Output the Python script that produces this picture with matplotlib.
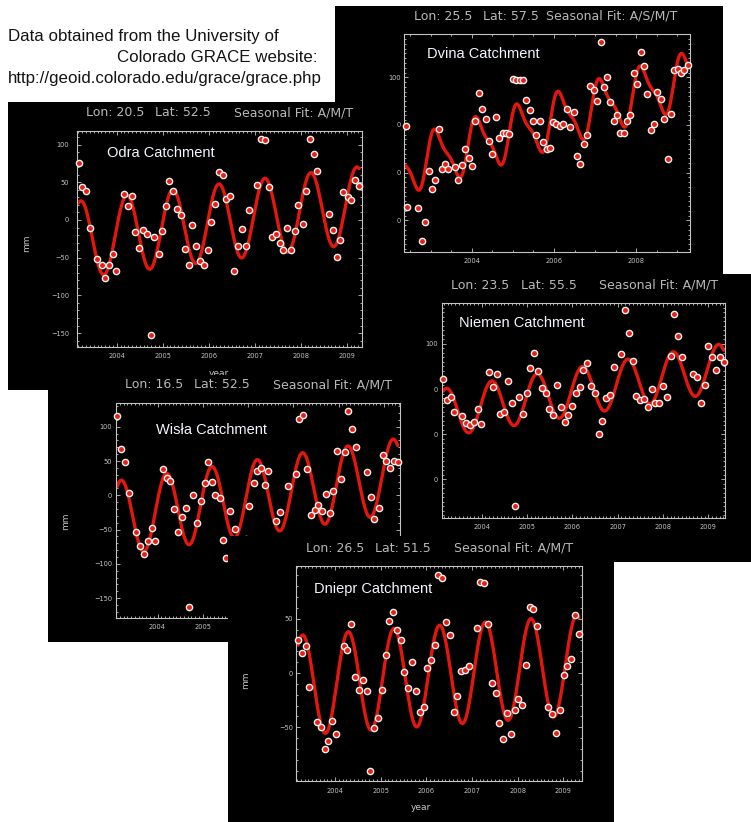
import numpy as np
import matplotlib
matplotlib.use("Agg")
import matplotlib.pyplot as plt
from matplotlib.ticker import MultipleLocator

W, H = 751, 822

# GRACE water storage anomalies (mm)
ODRA_YEAR = [2003.17, 2003.25, 2003.34, 2003.41, 2003.57, 2003.67, 2003.75, 2003.83, 2003.92, 2003.99,
             2004.16, 2004.24, 2004.33, 2004.40, 2004.49, 2004.57, 2004.65, 2004.74, 2004.82, 2004.91, 2004.99,
             2005.07, 2005.14, 2005.23, 2005.31, 2005.40, 2005.48, 2005.57, 2005.64, 2005.73, 2005.80, 2005.89, 2005.98,
             2006.06, 2006.14, 2006.22, 2006.30, 2006.38, 2006.47, 2006.55, 2006.63, 2006.72, 2006.80, 2006.88,
             2007.05, 2007.13, 2007.22, 2007.30, 2007.37, 2007.46, 2007.54, 2007.62, 2007.70, 2007.78, 2007.87, 2007.95,
             2008.04, 2008.12, 2008.20, 2008.28, 2008.36, 2008.61, 2008.70, 2008.78, 2008.86, 2008.93,
             2009.02, 2009.10, 2009.19, 2009.27]
ODRA_MM = [76, 44, 38, -10, -52, -60, -77, -60, -45, -68,
           34, 18, 32, -16, -37, -13, -18, -153, -22, -45, -15,
           19, 52, 38, 15, 6, -39, -60, -6, -35, -54, -60, -40,
           -3, 21, 64, 59, 28, 32, -67, -35, -12, -35, 13,
           46, 107, 106, 44, -22, -19, -30, -40, -11, -40, -14, 20,
           -5, 39, 107, 88, 65, 8, -13, -49, -27, 37,
           31, 27, 53, 45]

DVINA_YEAR = [2002.40, 2002.44, 2002.70, 2002.79, 2002.87, 2002.96,
              2003.04, 2003.12, 2003.20, 2003.27, 2003.36, 2003.43, 2003.60, 2003.68, 2003.77, 2003.85, 2003.94,
              2004.02, 2004.09, 2004.18, 2004.26, 2004.34, 2004.42, 2004.50, 2004.59, 2004.67, 2004.75, 2004.83, 2004.91,
              2005.00, 2005.08, 2005.17, 2005.25, 2005.33, 2005.41, 2005.49, 2005.57, 2005.66, 2005.74, 2005.82, 2005.90, 2005.98,
              2006.06, 2006.15, 2006.23, 2006.31, 2006.40, 2006.48, 2006.56, 2006.64, 2006.72, 2006.80, 2006.88, 2006.96,
              2007.04, 2007.13, 2007.21, 2007.29, 2007.37, 2007.45, 2007.53, 2007.61, 2007.69, 2007.77, 2007.85, 2007.94,
              2008.02, 2008.11, 2008.19, 2008.27, 2008.35, 2008.43, 2008.51, 2008.60, 2008.68, 2008.76, 2008.84, 2008.92,
              2009.01, 2009.09, 2009.17, 2009.25]
DVINA_MM = [-3, -172, -175, -243, -204, -96,
            -135, -115, -8, -92, -82, -92, -88, -115, -85, -51, -70,
            -87, 8, 68, 34, 13, -34, -60, 17, -28, -17, -17, -19,
            96, 94, 94, 95, 53, 31, 9, -22, 9, -35, -51, -48, 6,
            3, -3, 1, 34, -5, 27, -65, -82, -39, -22, 81, 73,
            51, 173, 80, 100, 49, 8, 20, -17, -17, 8, 20, 110,
            85, 154, 124, 64, -11, 1, 69, 54, 13, -71, 22, 115,
            117, 110, 115, 126]

NIEMEN_YEAR = [2003.15, 2003.24, 2003.32, 2003.39, 2003.57, 2003.66, 2003.74, 2003.82, 2003.91, 2003.99,
               2004.16, 2004.24, 2004.33, 2004.40, 2004.50, 2004.57, 2004.66, 2004.74, 2004.82, 2004.91, 2004.99,
               2005.07, 2005.16, 2005.24, 2005.32, 2005.41, 2005.49, 2005.58, 2005.66, 2005.74, 2005.83, 2005.91,
               2006.00, 2006.08, 2006.16, 2006.24, 2006.33, 2006.41, 2006.50, 2006.58, 2006.66, 2006.74, 2006.83, 2006.91,
               2007.08, 2007.17, 2007.25, 2007.33, 2007.41, 2007.50, 2007.58, 2007.66, 2007.75, 2007.83, 2007.92,
               2008.00, 2008.08, 2008.17, 2008.25, 2008.33, 2008.42, 2008.67, 2008.75, 2008.84, 2008.92,
               2009.00, 2009.09, 2009.17, 2009.25, 2009.34]
NIEMEN_MM = [22, -24, -17, -52, -59, -76, -81, -73, -45, -78,
             37, 4, 33, -55, -50, 17, -30, -261, -17, -56, -8,
             46, 81, 39, 2, -9, -45, -57, 9, -39, -73, -57,
             -37, -8, 4, 42, 57, 7, -9, -99, -70, -21, -13, 49,
             78, 176, 124, 62, -15, -24, -23, -39, -1, -30, -30,
             7, -17, 73, 167, 118, 70, 33, 27, -30, 9,
             96, 70, 42, 70, 60]

WISLA_YEAR = [2003.11, 2003.20, 2003.28, 2003.36, 2003.53, 2003.62, 2003.70, 2003.78, 2003.87, 2003.95,
              2004.12, 2004.20, 2004.28, 2004.36, 2004.45, 2004.53, 2004.62, 2004.70, 2004.78, 2004.87, 2004.95,
              2005.04, 2005.12, 2005.20, 2005.28, 2005.37, 2005.45, 2005.52, 2005.61, 2005.70, 2005.96,
              2006.03, 2006.12, 2006.20, 2006.29, 2006.37, 2006.45, 2006.62, 2006.71, 2006.87,
              2007.05, 2007.13, 2007.21, 2007.30, 2007.38, 2007.47, 2007.55, 2007.63, 2007.72, 2007.80, 2007.88, 2007.96,
              2008.05, 2008.13, 2008.21, 2008.30, 2008.38, 2008.63, 2008.71, 2008.79, 2008.88, 2008.97,
              2009.05, 2009.13, 2009.21, 2009.30]
WISLA_MM = [116, 67, 48, 3, -54, -74, -86, -66, -47, -66,
            38, 25, 21, -20, -54, -32, -18, -163, 0, -41, -8,
            18, 49, 20, 1, -4, -65, -92, -23, -49, -64,
            -15, 18, 36, 40, 15, 35, -38, -25, 13,
            31, 112, 117, 39, -28, -21, -14, -23, 2, -26, 7, 64,
            24, 63, 123, 96, 71, 34, -3, -34, -18, 59,
            50, 40, 50, 48]

DNIEPR_YEAR = [2003.19, 2003.28, 2003.36, 2003.44, 2003.61, 2003.69, 2003.77, 2003.85, 2003.94, 2004.02,
               2004.19, 2004.27, 2004.35, 2004.44, 2004.53, 2004.61, 2004.69, 2004.77, 2004.85, 2004.94,
               2005.02, 2005.11, 2005.19, 2005.26, 2005.35, 2005.44, 2005.52, 2005.60, 2005.69, 2005.77, 2005.85, 2005.94,
               2006.02, 2006.10, 2006.18, 2006.26, 2006.35, 2006.43, 2006.51, 2006.60, 2006.68, 2006.76, 2006.85, 2006.93,
               2007.10, 2007.18, 2007.27, 2007.35, 2007.43, 2007.52, 2007.60, 2007.68, 2007.77, 2007.85, 2007.93,
               2008.01, 2008.09, 2008.18, 2008.26, 2008.34, 2008.42, 2008.67, 2008.76, 2008.84, 2008.92,
               2009.01, 2009.09, 2009.17, 2009.26, 2009.34]
DNIEPR_MM = [30, 18, 25, -13, -45, -50, -70, -63, -44, -56,
             25, 21, 45, -4, -16, -6, -17, -90, -51, -41,
             -16, 17, 48, 56, 40, 30, 1, -14, 10, -17, -36, -31,
             5, 12, 26, 90, 87, 47, 35, -36, -21, 2, 3, 6,
             41, 84, 83, 45, -9, -18, -46, -61, -37, -56, -34,
             -24, -29, 7, 61, 59, 43, -31, -38, -55, -34,
             -2, 6, 13, 53, 36]

# seasonal fit:
# mean at 2006.0, trend (mm/yr), annual amp, annual peak phase, semiannual amp, semiannual phase
ODRA_FIT = [-4.75, 7.5, 50.9, 0.22, 0.0, 0.0]
DVINA_FIT = [9.1, 26.5, 52.0, 0.156, 15.6, 0.031]
NIEMEN_FIT = [-6.9, 16.2, 53.5, 0.22, 0.0, 0.0]
WISLA_FIT = [-4.5, 10.0, 54.5, 0.20, 0.0, 0.0]
DNIEPR_FIT = [-2.9, 3.0, 46.0, 0.29, 0.0, 0.0]

NAMES = ["Dvina Catchment", "Odra Catchment", "Niemen Catchment", "Wisła Catchment", "Dniepr Catchment"]
LONS = ["Lon: 25.5", "Lon: 20.5", "Lon: 23.5", "Lon: 16.5", "Lon: 26.5"]
LATS = ["Lat: 57.5", "Lat: 52.5", "Lat: 55.5", "Lat: 52.5", "Lat: 51.5"]
FITS = ["Seasonal Fit: A/S/M/T", "Seasonal Fit: A/M/T", "Seasonal Fit: A/M/T",
        "Seasonal Fit: A/M/T", "Seasonal Fit: A/M/T"]

YEAR_TICKS = [2004, 2005, 2006, 2007, 2008, 2009]
DVINA_YEAR_TICKS = [2004, 2006, 2008]
MM_TICKS_50 = [-150, -100, -50, 0, 50, 100]
MM_TICKS_DNIEPR = [-50, 0, 50]
MM_TICKS_100 = [-200, -100, 0, 100]
MM_LABELS_100 = ["0", "0", "0", "100"]  # left digits are cropped away in the screenshot

NOTE = ["Data obtained from the University of",
        "Colorado GRACE website:",
        "http://geoid.colorado.edu/grace/grace.php"]

GRAY = "#c4c4c4"
RED_LINE = "#e3170d"
RED_DOT = "#ee1c10"


def seasonal_fit(t, c):
    m, tr, a1, p1, a2, p2 = c
    return (m + tr * (t - 2006.0) + a1 * np.cos(2 * np.pi * (t - p1))
            + a2 * np.cos(4 * np.pi * (t - p2)))


def px_rect(l, t, r, b):
    return [l / W, 1 - b / H, (r - l) / W, (b - t) / H]


def fx(x):
    return x / W


def fy(y):
    return 1 - y / H


def mm_labels(ticks):
    return [str(v).replace("-", "\u2212") for v in ticks]


# layout of each screenshot in pixels (drawn back to front)
PANELS = [
    dict(name=0, year=DVINA_YEAR, vals=DVINA_MM, fit=DVINA_FIT,
         panel=(335, 5.7, 723.3, 280), plot=(404, 34.3, 690, 252.3),
         xlim=(2002.356, 2009.304), ylim=(-267.1, 190.2),
         xticks=DVINA_YEAR_TICKS, xminor=0.5, yticks=MM_TICKS_100, ylabels=MM_LABELS_100,
         head=(414, 483.3, 546, 16), title=(427, 54), ypad=2.5, xpad=4.2,
         mmlab=None, yearlab=None),
    dict(name=1, year=ODRA_YEAR, vals=ODRA_MM, fit=ODRA_FIT,
         panel=(8.3, 102.3, 372, 390), plot=(76.7, 131, 361.7, 346.7),
         xlim=(2003.13, 2009.326), ylim=(-168.0, 118.0),
         xticks=YEAR_TICKS, xminor=1 / 12, yticks=MM_TICKS_50, ylabels=mm_labels(MM_TICKS_50),
         head=(86, 155.3, 234.3, 112.7), title=(107, 153), ypad=5.5, xpad=4.7,
         mmlab=(26.7, 243), yearlab=(219, 373.4)),
    dict(name=2, year=NIEMEN_YEAR, vals=NIEMEN_MM, fit=NIEMEN_FIT,
         panel=(366, 274, 751, 562), plot=(441.7, 303.3, 725, 517.7),
         xlim=(2003.118, 2009.368), ylim=(-285.9, 190.4),
         xticks=YEAR_TICKS, xminor=1 / 12, yticks=MM_TICKS_100, ylabels=MM_LABELS_100,
         head=(451, 520.7, 599, 285), title=(459, 323), ypad=2.5, xpad=4.7,
         mmlab=None, yearlab=None),
    dict(name=3, year=WISLA_YEAR, vals=WISLA_MM, fit=WISLA_FIT,
         panel=(47.7, 375, 406, 642), plot=(115.7, 403.3, 400, 617.7),
         xlim=(2003.077, 2009.353), ylim=(-178.5, 134.2),
         xticks=YEAR_TICKS, xminor=1 / 12, yticks=MM_TICKS_50, ylabels=mm_labels(MM_TICKS_50),
         head=(125, 194.3, 273.3, 385), title=(156, 430), ypad=2.5, xpad=4.7,
         mmlab=(65.7, 521.7), yearlab=None),
    dict(name=4, year=DNIEPR_YEAR, vals=DNIEPR_MM, fit=DNIEPR_FIT,
         panel=(228, 536, 614.3, 822), plot=(295.7, 566, 581.7, 781),
         xlim=(2003.139, 2009.401), ylim=(-99.4, 98.5),
         xticks=YEAR_TICKS, xminor=1 / 12, yticks=MM_TICKS_DNIEPR, ylabels=mm_labels(MM_TICKS_DNIEPR),
         head=(306, 375, 454.3, 548.3), title=(314, 589), ypad=2.0, xpad=4.7,
         mmlab=(245.7, 680), yearlab=(421, 807.7)),
]


def draw_panel(fig, z, p):
    i = p["name"]
    bg = fig.add_axes(px_rect(*p["panel"]), zorder=z)
    bg.set_facecolor("black")
    bg.set_xticks([])
    bg.set_yticks([])
    for s in bg.spines.values():
        s.set_visible(False)

    hx1, hx2, hx3, hy = p["head"]
    for x, s in zip((hx1, hx2, hx3), (LONS[i], LATS[i], FITS[i])):
        bg.text(fx(x), fy(hy), s, transform=fig.transFigure, ha="left", va="center",
                fontsize=9, color="#b8b8b8", family="DejaVu Sans")
    if p["mmlab"] is not None:
        bg.text(fx(p["mmlab"][0]), fy(p["mmlab"][1]), "mm", transform=fig.transFigure,
                rotation=90, ha="center", va="center", fontsize=6.5, color=GRAY)
    if p["yearlab"] is not None:
        bg.text(fx(p["yearlab"][0]), fy(p["yearlab"][1]), "year", transform=fig.transFigure,
                ha="center", va="center", fontsize=6.5, color=GRAY)

    ax = fig.add_axes(px_rect(*p["plot"]), zorder=z + 1)
    ax.set_facecolor("none")
    ax.set_xlim(*p["xlim"])
    ax.set_ylim(*p["ylim"])

    yr = np.asarray(p["year"], dtype=float)
    t = np.linspace(yr[0], yr[-1], 800)
    ax.plot(t, seasonal_fit(t, p["fit"]), color=RED_LINE, lw=2.4, zorder=2,
            solid_capstyle="round")
    ax.plot(yr, p["vals"], "o", ms=4.5, mfc=RED_DOT, mec="#f4f4f4", mew=1.0,
            zorder=3, clip_on=False)

    ax.set_xticks(p["xticks"])
    ax.set_xticklabels([str(v) for v in p["xticks"]])
    ax.xaxis.set_minor_locator(MultipleLocator(p["xminor"]))
    ax.set_yticks(p["yticks"])
    ax.set_yticklabels(p["ylabels"])
    ax.yaxis.set_minor_locator(MultipleLocator(10))
    ax.tick_params(which="both", direction="in", top=True, right=True,
                   color=GRAY, labelcolor=GRAY, labelsize=4.8, width=0.6)
    ax.tick_params(which="major", length=3.2)
    ax.tick_params(which="minor", length=1.6)
    ax.tick_params(axis="y", which="major", pad=p["ypad"])
    ax.tick_params(axis="x", which="major", pad=p["xpad"])
    for s in ax.spines.values():
        s.set_color(GRAY)
        s.set_linewidth(0.8)

    ax.text(fx(p["title"][0]), fy(p["title"][1]), NAMES[i], transform=fig.transFigure,
            ha="left", va="center", fontsize=10.5, color="#f4f6ff", family="Liberation Sans",
            zorder=5)


fig = plt.figure(figsize=(W / 100, H / 100), dpi=100)
fig.patch.set_facecolor("white")

fig.text(fx(7.7), fy(41), NOTE[0], ha="left", va="baseline", fontsize=12.2,
         color="#141414", family="Liberation Sans")
fig.text(fx(117.3), fy(61.7), NOTE[1], ha="left", va="baseline", fontsize=12.2,
         color="#141414", family="Liberation Sans")
fig.text(fx(7.7), fy(82.7), NOTE[2], ha="left", va="baseline", fontsize=12.2,
         color="#141414", family="Liberation Sans")

for k, p in enumerate(PANELS):
    draw_panel(fig, 10 * (k + 1), p)

fig.savefig("out.png", dpi=100, facecolor="white")
